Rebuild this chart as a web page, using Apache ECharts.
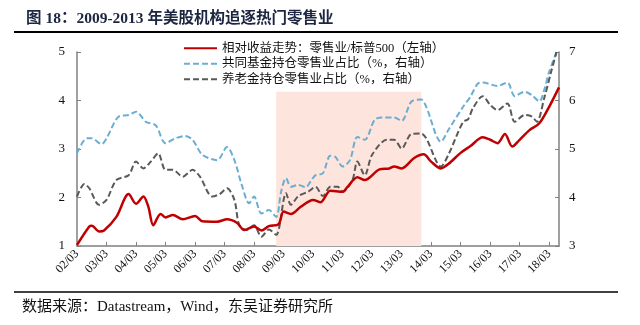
<!DOCTYPE html>
<html><head><meta charset="utf-8">
<script src="https://cdn.jsdelivr.net/npm/echarts@6/dist/echarts.min.js"></script>
<style>html,body{margin:0;padding:0;background:#fff}#c{width:640px;height:325px}</style>
</head><body><div id="c"></div>
<script>
// Tick labels (every March, yy/mm)
var tickLabels = ['02/03','03/03','04/03','05/03','06/03','07/03','08/03','09/03','10/03','11/03','12/03','13/03','14/03','15/03','16/03','17/03','18/03'];

// 相对收益走势：零售业/标普500（左轴）
var relDates = ['2002-03','2002-08','2002-09','2002-12','2003-02','2003-07','2003-12','2004-03','2004-06','2004-08','2004-10','2005-01','2005-03','2005-06','2005-10','2006-03','2006-06','2006-12','2007-04','2007-08','2007-11','2008-03','2008-06','2008-09','2009-01','2009-03','2009-06','2009-10','2010-03','2010-06','2010-10','2011-03','2011-05','2011-09','2011-12','2012-06','2012-10','2012-12','2013-03','2013-08','2013-12','2014-03','2014-07','2014-10','2015-03','2015-07','2015-12','2016-03','2016-06','2016-09','2016-12','2017-03','2017-07','2017-11','2018-03','2018-07'];
var relValues = [1.02,1.40,1.42,1.30,1.32,1.60,2.07,1.87,2.02,1.81,1.43,1.66,1.59,1.64,1.55,1.62,1.51,1.50,1.55,1.48,1.33,1.40,1.32,1.41,1.45,1.71,1.66,1.81,1.95,1.90,2.14,2.12,2.22,2.42,2.36,2.58,2.60,2.64,2.60,2.81,2.89,2.74,2.60,2.69,2.92,3.06,3.24,3.19,3.12,3.31,3.05,3.19,3.39,3.53,3.87,4.27];

// 共同基金持仓零售业占比（%，右轴）
var fundMonths = [0,4,6,10,12,17,21,24,28,32,36,40,44,47,51,57,61,64,67,70,72,75,78,81,83,85,87,90,93,95,97,100,103,105,108,111,114,117,121,124,129,132,136,140,142,148,151,157,160,163,165,171,175,178,182,185,188,190,192,195];
var fundValues = [4.91,5.22,5.22,5.10,5.22,5.67,5.70,5.77,5.56,5.49,5.12,5.22,5.27,5.19,4.88,4.77,5.04,4.77,4.26,3.88,4.02,3.67,3.74,3.60,4.12,4.40,4.22,4.26,4.21,4.33,4.46,4.50,4.86,4.84,4.64,4.77,5.25,5.19,5.60,5.65,5.65,5.58,5.98,6.02,5.87,5.15,5.39,5.87,6.08,6.35,6.37,6.30,6.37,6.09,6.18,6.11,5.98,6.22,6.59,7.00];

// 养老金持仓零售业占比（%，右轴）
var pensionMonths = [0,3,5,9,12,16,21,24,27,30,33,36,39,43,47,50,55,58,61,64,66,69,72,75,78,81,85,87,90,94,97,100,103,106,108,112,114,117,120,126,129,132,136,140,142,148,151,157,159,161,165,168,171,175,178,182,185,187,190,193,195];
var pensionValues = [4.02,4.28,4.19,3.85,3.95,4.36,4.46,4.74,4.60,4.74,4.91,4.57,4.57,4.43,4.57,4.43,4.02,4.07,4.19,3.95,3.43,3.33,3.43,3.19,3.34,3.23,4.09,3.85,4.03,4.12,4.22,4.03,4.22,4.22,4.12,4.36,4.74,4.46,4.88,5.19,5.19,5.01,5.31,5.32,5.22,4.64,4.88,5.56,5.61,5.84,6.09,5.91,5.80,5.94,5.56,5.70,5.67,5.56,6.05,6.63,7.00];

// shaded period 2009-2013
var shadeStart = '2008-12', shadeEnd = '2013-11';

function toIdx(s){var p=s.split('-');return (parseInt(p[0],10)-2002)*12+(parseInt(p[1],10)-3);}
function pairs(xs, ys){return xs.map(function(x,i){return [typeof x==='string'?toIdx(x):x, ys[i]];});}

var SERIF = "'Liberation Serif','Noto Sans CJK SC'";
var chart = echarts.init(document.getElementById('c'), null, {renderer:'canvas'});
chart.setOption({
  animation:false,
  backgroundColor:'#fff',
  title:{text:'图 18：2009-2013 年美股机构追逐热门零售业', left:21, top:6,
    textStyle:{fontSize:15.5, fontWeight:'bold', color:'#1c2640', fontFamily:SERIF}},
  graphic:[
    {type:'line', shape:{x1:14,y1:32,x2:618,y2:32}, style:{stroke:'#000',lineWidth:2}},
    {type:'line', shape:{x1:14,y1:292,x2:618,y2:292}, style:{stroke:'#000',lineWidth:1.5}},
    {type:'text', left:22, top:300, style:{text:'数据来源：Datastream，Wind，东吴证券研究所', fontSize:15, fill:'#111', fontFamily:SERIF}}
  ],
  legend:{orient:'vertical', left:178, top:37, itemWidth:33, itemHeight:10, itemGap:3,
    itemStyle:{opacity:0},
    data:['相对收益走势：零售业/标普500（左轴）','共同基金持仓零售业占比（%，右轴）','养老金持仓零售业占比（%，右轴）'],
    textStyle:{fontSize:12.5, color:'#111', fontFamily:SERIF}},
  grid:{left:77, right:81, top:52, bottom:79},
  xAxis:{type:'value', min:0, max:196, interval:12,
    axisLine:{lineStyle:{color:'#808080', width:1.5}},
    axisTick:{inside:true, length:4, lineStyle:{color:'#808080'}},
    splitLine:{show:false},
    axisLabel:{rotate:45, margin:6, fontSize:12, color:'#111', fontFamily:SERIF, showMaxLabel:false,
      formatter:function(v){return v%12===0 ? (tickLabels[v/12]||'') : '';}}},
  yAxis:[
    {type:'value', min:1, max:5, interval:1, position:'left',
      axisLine:{show:true, lineStyle:{color:'#808080', width:1.5}},
      axisTick:{show:true, inside:true, length:4, lineStyle:{color:'#808080'}},
      splitLine:{show:false},
      axisLabel:{fontSize:13, color:'#111', margin:12, fontFamily:SERIF}},
    {type:'value', min:3, max:7, interval:1, position:'right',
      axisLine:{show:true, lineStyle:{color:'#808080', width:1.5}},
      axisTick:{show:true, inside:true, length:4, lineStyle:{color:'#808080'}},
      splitLine:{show:false},
      axisLabel:{fontSize:13, color:'#111', margin:10, fontFamily:SERIF}}
  ],
  series:[
    {type:'line', yAxisIndex:0, data:[], z:1, silent:true,
      markArea:{silent:true, itemStyle:{color:'#fde4dc'},
        data:[[{xAxis:toIdx(shadeStart), yAxis:1},{xAxis:toIdx(shadeEnd), yAxis:4.18}]]}},
    {name:'共同基金持仓零售业占比（%，右轴）', type:'line', yAxisIndex:1, z:3, smooth:0.3, symbol:'none',
      data:pairs(fundMonths, fundValues), lineStyle:{color:'#6aaed3', width:2, type:[6,3]}, itemStyle:{color:'#6aaed3'}},
    {name:'养老金持仓零售业占比（%，右轴）', type:'line', yAxisIndex:1, z:3, smooth:0.3, symbol:'none',
      data:pairs(pensionMonths, pensionValues), lineStyle:{color:'#595959', width:2, type:[6,3]}, itemStyle:{color:'#595959'}},
    {name:'相对收益走势：零售业/标普500（左轴）', type:'line', yAxisIndex:0, z:4, smooth:0.3, symbol:'none',
      data:pairs(relDates, relValues), lineStyle:{color:'#c00000', width:2.5}, itemStyle:{color:'#c00000'}}
  ]
});
</script></body></html>
